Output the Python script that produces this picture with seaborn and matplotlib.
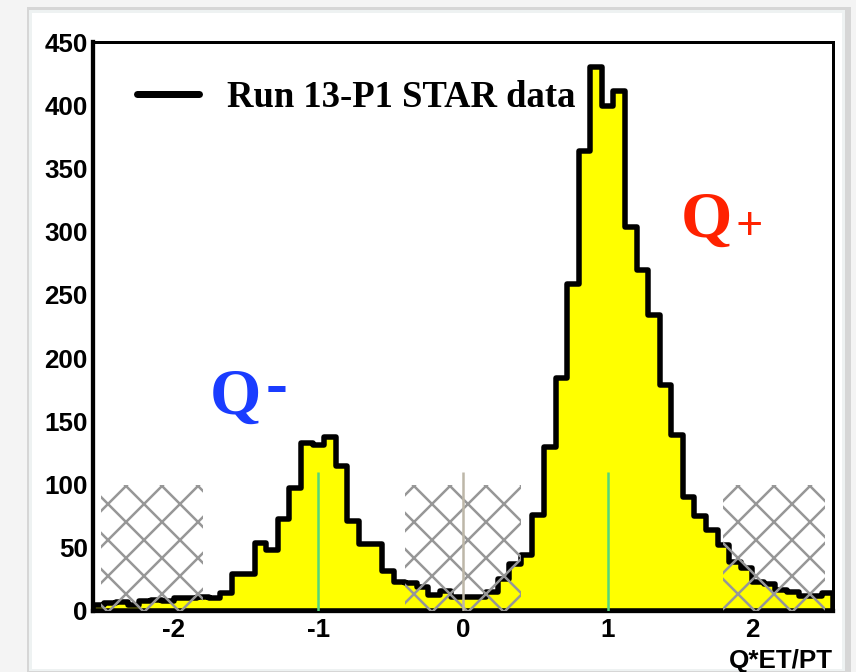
import numpy as np
import pandas as pd
import matplotlib
matplotlib.use("Agg")
import matplotlib.pyplot as plt
from matplotlib.lines import Line2D
from matplotlib.patches import Rectangle
from matplotlib.ticker import MultipleLocator
import seaborn as sns

# ---------------- data ----------------
bin_start = -2.56
bin_width = 0.08
counts = [5, 6, 7, 5, 8, 9, 8, 10, 10, 11, 10, 14,
          29, 29, 54, 48, 73, 97, 133, 131, 138, 115, 71, 53,
          53, 32, 23, 22, 19, 13, 16, 11, 11, 11, 15, 25,
          37, 44, 76, 130, 184, 259, 364, 430, 399, 411, 304, 270,
          234, 179, 139, 90, 75, 64, 52, 39, 34, 23, 21, 17,
          15, 12, 12, 14]
hatch_lo = [-2.5, -0.4, 1.8]
hatch_hi = [-1.8, 0.4, 2.5]
hatch_height = 100
marker_x = [-1, 0, 1]
marker_colors = ["#55d67a", "#bdb7a8", "#55d67a"]
marker_height = 110
x_ticks = [-2, -1, 0, 1, 2]
y_ticks = [0, 50, 100, 150, 200, 250, 300, 350, 400, 450]
legend_label = "Run 13-P1 STAR data"
x_label = "Q*ET/PT"

# ---------------- style ----------------
DPI = 216
W, H = 856, 672


def pt(px):
    return px * 72.0 / DPI


sns.set_theme(style="white")
plt.rcParams["font.family"] = ["Liberation Sans", "DejaVu Sans"]
plt.rcParams["axes.unicode_minus"] = False
plt.rcParams["hatch.linewidth"] = pt(2.5)
plt.rcParams["hatch.color"] = "#979797"
plt.rcParams["text.color"] = "black"
plt.rcParams["axes.labelcolor"] = "black"
plt.rcParams["xtick.color"] = "black"
plt.rcParams["ytick.color"] = "black"
plt.rcParams["xtick.labelcolor"] = "black"
plt.rcParams["ytick.labelcolor"] = "black"

fig = plt.figure(figsize=(W / DPI, H / DPI), dpi=DPI, facecolor="#f4f4f4")


def frect(x0, y0, x1, y1, color):
    fig.add_artist(Rectangle((x0 / W, 1 - y1 / H), (x1 - x0) / W, (y1 - y0) / H,
                             transform=fig.transFigure, facecolor=color,
                             edgecolor="none", zorder=-10))


# screenshot-like panel with soft shadow
frect(27, 7, 851, 672, "#d6d6d6")
frect(29, 10, 845, 671, "#eef2f2")
frect(32, 13, 842, 669, "white")

ax = fig.add_axes([92.8 / W, 1 - 611 / H, (833.3 - 92.8) / W, (611 - 41.5) / H])
ax.set_facecolor("white")

n = len(counts)
centers = bin_start + bin_width * (np.arange(n) + 0.5)
edges = [float(v) for v in bin_start + bin_width * np.arange(n + 1)]
df = pd.DataFrame({"x": centers, "w": counts})

sns.histplot(data=df, x="x", weights="w", bins=edges, element="step", fill=True,
             color="#ffff00", edgecolor="black", linewidth=pt(5.5), alpha=1, ax=ax)

for lo, hi in zip(hatch_lo, hatch_hi):
    ax.fill_between([lo, hi], 0, hatch_height, facecolor="none", edgecolor="#979797",
                    hatch="xx", linewidth=0, zorder=3)

ax.vlines(marker_x, 0, marker_height, colors=marker_colors, linewidth=pt(2.5), zorder=4)

ax.set_xlim(bin_start, bin_start + bin_width * n)
ax.set_ylim(0, 450.4)
ax.set_xticks(x_ticks)
ax.set_yticks(y_ticks)
ax.xaxis.set_minor_locator(MultipleLocator(0.2))
ax.yaxis.set_minor_locator(MultipleLocator(10))
ax.set_axisbelow(False)

ax.tick_params(axis="both", which="both", direction="in", top=False, right=False,
               width=pt(3), color="black", labelcolor="black", labelsize=pt(26))
ax.tick_params(axis="y", which="major", length=pt(20), pad=pt(5))
ax.tick_params(axis="y", which="minor", length=pt(10))
ax.tick_params(axis="x", which="major", length=pt(17), pad=pt(7))
ax.tick_params(axis="x", which="minor", length=pt(8.5))
for lab in ax.get_xticklabels() + ax.get_yticklabels():
    lab.set_fontweight("bold")

for s in ["left", "bottom"]:
    ax.spines[s].set_linewidth(pt(4.3))
    ax.spines[s].set_color("black")
for s in ["top", "right"]:
    ax.spines[s].set_linewidth(pt(3))
    ax.spines[s].set_color("black")

ax.set_ylabel("")
ax.set_xlabel(x_label, loc="right", fontsize=pt(26), fontweight="bold",
              labelpad=pt(7), color="black")

handle = Line2D([], [], color="black", linewidth=pt(7))
leg = ax.legend([handle], [legend_label], loc="center left", bbox_to_anchor=(0.0597, 0.9015),
                frameon=False, borderpad=0, borderaxespad=0, handlelength=1.69,
                handletextpad=0.77,
                prop=dict(family=["Liberation Serif", "DejaVu Serif"], weight="bold",
                          size=pt(36.7)))
for t in leg.get_texts():
    t.set_color("black")

serif = ["Liberation Serif", "DejaVu Serif"]
ax.text(0.7939, 0.657, "Q", transform=ax.transAxes, color="#ff2200", fontsize=pt(66),
        fontweight="bold", family=serif, ha="left", va="baseline")
ax.text(0.8686, 0.6523, "+", transform=ax.transAxes, color="#ff2200", fontsize=pt(48),
        fontweight="bold", family=serif, ha="left", va="baseline")
ax.text(0.1575, 0.3471, "Q", transform=ax.transAxes, color="#1a3cff", fontsize=pt(66),
        fontweight="bold", family=serif, ha="left", va="baseline")
ax.text(0.234, 0.3615, "-", transform=ax.transAxes, color="#1a3cff", fontsize=pt(66),
        fontweight="bold", family=serif, ha="left", va="baseline")

fig.savefig("out.png", dpi=DPI, facecolor=fig.get_facecolor())
